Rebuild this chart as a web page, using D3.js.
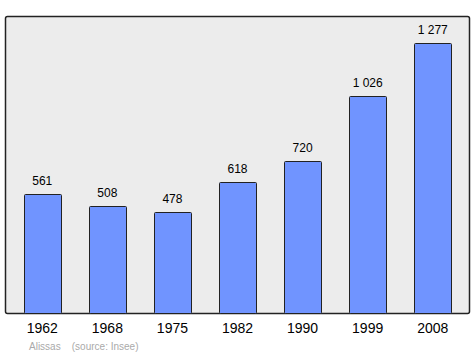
<!DOCTYPE html>
<html>
<head>
<meta charset="utf-8">
<script src="https://cdn.jsdelivr.net/npm/d3@7"></script>
<style>
body { margin: 0; background: #fff; }
text { font-family: "Liberation Sans", Arial, sans-serif; }
</style>
</head>
<body>
<div id="chart"></div>
<script>
var years = ["1962", "1968", "1975", "1982", "1990", "1999", "2008"];
var population = [561, 508, 478, 618, 720, 1026, 1277];
var valueLabels = ["561", "508", "478", "618", "720", "1 026", "1 277"];

var width = 475, height = 355;
var plotLeft = 5.5, plotRight = 469.5, plotTop = 16.5, plotBottom = 313.5;

var svg = d3.select("#chart")
	.append("svg")
	.attr("width", width)
	.attr("height", height);

// plot background frame
svg.append("rect")
	.attr("x", plotLeft)
	.attr("y", plotTop)
	.attr("width", plotRight - plotLeft)
	.attr("height", plotBottom - plotTop)
	.attr("rx", 2)
	.style("fill", "#ececec")
	.style("stroke", "#222")
	.style("stroke-width", 1.5);

var x = d3.scaleBand()
	.domain(years)
	.range([plotLeft, plotRight])
	.paddingInner(0.43)
	.paddingOuter(0.28);

var y = d3.scaleLinear()
	.domain([0, 1400])
	.range([plotBottom, plotTop]);

var bars = svg.selectAll(".bar")
	.data(years)
	.enter().append("g")
	.attr("class", "bar");

bars.append("rect")
	.attr("x", function (d) { return Math.round(x(d)) + 0.5; })
	.attr("y", function (d, i) { return Math.round(y(population[i])) + 0.5; })
	.attr("width", Math.round(x.bandwidth()))
	.attr("height", function (d, i) { return plotBottom - Math.round(y(population[i])) - 0.5; })
	.attr("rx", 1)
	.style("fill", "#7094ff")
	.style("stroke", "#222")
	.style("stroke-width", 1);

bars.append("text")
	.attr("x", function (d) { return x(d) + x.bandwidth() / 2; })
	.attr("y", function (d, i) { return y(population[i]) - 9; })
	.attr("text-anchor", "middle")
	.style("font-size", "12px")
	.style("fill", "#000")
	.text(function (d, i) { return valueLabels[i]; });

// x axis labels
var axis = svg.append("g")
	.attr("transform", "translate(0," + plotBottom + ")")
	.call(d3.axisBottom(x).tickSize(0).tickPadding(10));
axis.select(".domain").remove();
axis.selectAll("text")
	.style("font-family", "Liberation Sans, Arial, sans-serif")
	.style("font-size", "14px")
	.style("fill", "#000");

svg.append("text")
	.attr("x", 29)
	.attr("y", 350)
	.attr("xml:space", "preserve")
	.style("font-size", "10px")
	.style("fill", "#aaa")
	.text("Alissas    (source: Insee)");
</script>
</body>
</html>
